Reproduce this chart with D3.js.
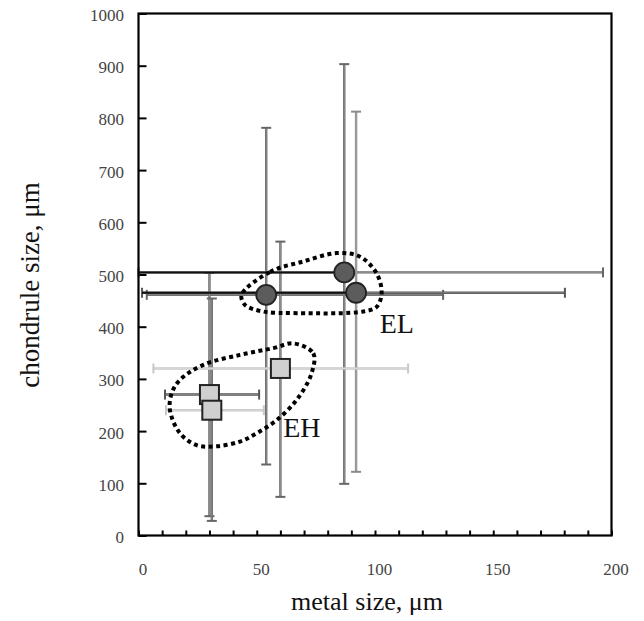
<!DOCTYPE html>
<html>
<head>
<meta charset="utf-8">
<script src="https://cdn.jsdelivr.net/npm/d3@7"></script>
<style>
  body { margin: 0; background: #fff; }
  text { font-family: 'Liberation Serif', 'DejaVu Serif', serif; }
</style>
</head>
<body>
<svg id="canvas"></svg>
<script>
// values (metal size / chondrule size, um)
let groups = ['EL', 'EL', 'EL', 'EH', 'EH', 'EH'];
let metalSize = [87, 54, 92, 30, 31, 60];
let chondruleSize = [504, 461, 465, 270, 240, 320];
let metalLow = [0, 3.5, 1.5, 11.2, 11.6, 6.3];
let metalHigh = [196.4, 128.8, 180.3, 51, 53, 114];
let chondruleLow = [99, 136, 122, 37, 28, 74];
let chondruleHigh = [903, 781, 812, 503, 454, 563];

let xTicks = [0, 50, 100, 150, 200];
let yTicks = [0, 100, 200, 300, 400, 500, 600, 700, 800, 900, 1000];

// hand drawn group outlines (data units)
let elOutlineX = [43.6, 55.6, 69.7, 83.8, 93.7, 100.7, 102.8, 100.7, 95, 66.9, 52.8, 45];
let elOutlineY = [461, 505, 525, 541, 534, 502, 464, 438, 429, 426, 429, 442];
let ehOutlineX = [65.5, 73.9, 73.2, 66.9, 58.4, 50, 42.9, 33.1, 24.6, 17.5, 13.3, 14, 17.5, 27.4, 42.9, 57];
let ehOutlineY = [368, 349, 311, 260, 221, 196, 180, 171, 173, 196, 240, 272, 298, 327, 346, 359];

let groupLabels = ['EL', 'EH'];
let groupLabelX = [102, 61.2];
let groupLabelY = [388, 189];

let width = 644;
let height = 621;
let plotLeft = 138.5, plotRight = 611.5, plotTop = 13.5, plotBottom = 535.5;

let hColor = ['#666', '#666', '#555', '#555', '#c8c8c8', '#c8c8c8'];
let vColor = ['#666', '#666', '#8a8a8a', '#666', '#666', '#666'];

let svg = d3.select('#canvas')
  .attr('width', width)
  .attr('height', height);

let xScale = d3.scaleLinear().domain([0, 200]).range([plotLeft, plotRight]);
let yScale = d3.scaleLinear().domain([0, 1000]).range([plotBottom, plotTop]);

let values = groups.map((g, i) => ({
  group: g,
  x: metalSize[i], y: chondruleSize[i],
  xLo: metalLow[i], xHi: metalHigh[i],
  yLo: chondruleLow[i], yHi: chondruleHigh[i],
  hc: hColor[i], vc: vColor[i]
}));

// axes
let xAxis = d3.axisBottom(xScale).tickValues(d3.range(0, 201, 10)).tickSize(-5).tickFormat('');
let yAxis = d3.axisLeft(yScale).tickValues(yTicks).tickSize(-8).tickFormat('');

let gx = svg.append('g').attr('transform', `translate(0, ${plotBottom})`).call(xAxis);
let gy = svg.append('g').attr('transform', `translate(${plotLeft}, 0)`).call(yAxis);
[gx, gy].forEach(g => {
  g.select('.domain').remove();
  g.selectAll('.tick line').attr('stroke', '#000').attr('stroke-width', 2);
});

svg.selectAll('.xlab')
  .data(xTicks)
  .enter()
  .append('text')
  .attr('x', d => xScale(d) + 4.5)
  .attr('y', 575)
  .attr('text-anchor', 'middle')
  .attr('font-size', 17)
  .attr('fill', '#444')
  .text(d => d);

svg.selectAll('.ylab')
  .data(yTicks)
  .enter()
  .append('text')
  .attr('x', 124)
  .attr('y', d => yScale(d) + 7.5)
  .attr('text-anchor', 'end')
  .attr('font-size', 17)
  .attr('fill', '#444')
  .text(d => d);

// error bars
let drawBar = (x1, y1, x2, y2, c) => {
  svg.append('line').attr('x1', x1).attr('y1', y1).attr('x2', x2).attr('y2', y2)
    .attr('stroke', c).attr('stroke-width', 2.4);
  svg.append('line').attr('x1', x1).attr('y1', y1).attr('x2', x2).attr('y2', y2)
    .attr('stroke', '#fff').attr('stroke-opacity', 0.35).attr('stroke-width', 0.8);
};

values.forEach(d => {
  let cx = xScale(d.x), cy = yScale(d.y);
  // vertical
  drawBar(cx, yScale(d.yLo), cx, yScale(d.yHi), d.vc);
  [d.yLo, d.yHi].forEach(v => {
    svg.append('line').attr('x1', cx - 5).attr('x2', cx + 5)
      .attr('y1', yScale(v)).attr('y2', yScale(v))
      .attr('stroke', d.vc).attr('stroke-width', 2);
  });
  // horizontal
  drawBar(xScale(d.xLo), cy, xScale(d.xHi), cy, d.hc);
  [d.xLo, d.xHi].forEach(v => {
    svg.append('line').attr('x1', xScale(v)).attr('x2', xScale(v))
      .attr('y1', cy - 5).attr('y2', cy + 5)
      .attr('stroke', d.hc).attr('stroke-width', 2);
  });
});

// left part of the EL bars reads darker
values.filter(d => d.group === 'EL' && d.xLo < 2).forEach(d => {
  svg.append('line')
    .attr('x1', xScale(d.xLo)).attr('x2', xScale(d.x))
    .attr('y1', yScale(d.y)).attr('y2', yScale(d.y))
    .attr('stroke', '#111').attr('stroke-width', 2);
});

// outlines
let outline = d3.line()
  .x(p => xScale(p[0]))
  .y(p => yScale(p[1]))
  .curve(d3.curveCatmullRomClosed);

[[elOutlineX, elOutlineY], [ehOutlineX, ehOutlineY]].forEach(([xs, ys]) => {
  svg.append('path')
    .attr('d', outline(xs.map((x, i) => [x, ys[i]])))
    .attr('fill', 'none')
    .attr('stroke', '#000')
    .attr('stroke-width', 4)
    .attr('stroke-dasharray', '4 3.5');
});

// markers
svg.selectAll('.dot')
  .data(values.filter(d => d.group === 'EL'))
  .enter()
  .append('circle')
  .attr('class', 'dot')
  .attr('cx', d => xScale(d.x))
  .attr('cy', d => yScale(d.y))
  .attr('r', 10)
  .attr('fill', '#5c5c5c')
  .attr('stroke', '#222')
  .attr('stroke-width', 1.8);

svg.selectAll('.sq')
  .data(values.filter(d => d.group === 'EH'))
  .enter()
  .append('rect')
  .attr('class', 'sq')
  .attr('x', d => xScale(d.x) - 9.5)
  .attr('y', d => yScale(d.y) - 9.5)
  .attr('width', 19)
  .attr('height', 19)
  .attr('fill', '#cfcfcf')
  .attr('stroke', '#222')
  .attr('stroke-width', 2);

// frame
svg.append('rect')
  .attr('x', plotLeft).attr('y', plotTop)
  .attr('width', plotRight - plotLeft).attr('height', plotBottom - plotTop)
  .attr('fill', 'none')
  .attr('stroke', '#000')
  .attr('stroke-width', 2.2);

// group labels
svg.selectAll('.glab')
  .data(groupLabels)
  .enter()
  .append('text')
  .attr('x', (d, i) => xScale(groupLabelX[i]))
  .attr('y', (d, i) => yScale(groupLabelY[i]))
  .attr('font-size', 28)
  .attr('fill', '#111')
  .text(d => d);

// titles
svg.append('text')
  .attr('x', 367)
  .attr('y', 610)
  .attr('text-anchor', 'middle')
  .attr('font-size', 26)
  .attr('fill', '#111')
  .text('metal size, μm');

svg.append('text')
  .attr('transform', 'translate(39, 285) rotate(-90)')
  .attr('text-anchor', 'middle')
  .attr('font-size', 27)
  .attr('fill', '#111')
  .text('chondrule size, μm');
</script>
</body>
</html>
